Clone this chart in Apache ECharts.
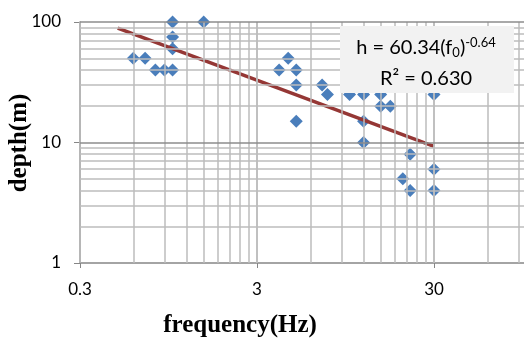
<!DOCTYPE html>
<html><head><meta charset="utf-8">
<script src="https://cdn.jsdelivr.net/npm/echarts@6/dist/echarts.min.js"></script>
<style>html,body{margin:0;padding:0;background:#fff}#c{width:524px;height:343px}</style>
</head><body><div id="c"></div>
<script>
// data
const freq  = [0.6, 0.7, 0.8, 0.9, 1, 1, 1, 1, 1.5, 4, 4.5, 5, 5, 5, 7, 7.5, 10, 12, 12, 12, 15, 15, 17, 20, 22, 22, 30, 30, 30];
const depth = [50, 50, 40, 40, 40, 100, 75, 60, 100, 40, 50, 40, 30, 15, 30, 25, 25, 25, 15, 10, 25, 20, 20, 5, 8, 4, 25, 6, 4];
const trendX = [0.49, 30];
const trendY = [89, 9.3];
const xTicks = [0.3, 3, 30, 300];
const yTicks = [1, 10, 100];
const eqText = ['h = 60.34(f', '0', ')', '-0.64', 'R² = 0.630'];

const FONT = 'Lato, "Open Sans", sans-serif';
const SERIF = 'bold 25px "Liberation Serif", "Times New Roman", serif';
const gridX = [];
[0.3, 3, 30].forEach(d => { for (let k = 1; k <= 10; k++) gridX.push(+(d * k).toPrecision(6)); });
const gridY = [];
[1, 10].forEach(d => { for (let k = 2; k <= 10; k++) gridY.push(d * k); });

const lines = [];
gridX.forEach(v => lines.push({ xAxis: v, lineStyle: { color: '#bcbcbc', width: 1.5, type: 'solid' } }));
gridY.forEach(v => lines.push({ yAxis: v, lineStyle: { color: (v === 10 || v === 100) ? '#8c8c8c' : '#bcbcbc', width: (v === 10 || v === 100) ? 1.7 : 1.5, type: 'solid' } }));

const chart = echarts.init(document.getElementById('c'), null, { renderer: 'canvas' });
chart.setOption({
  animation: false,
  grid: { left: 80, top: 22, height: 241, width: 531, containLabel: false, outerBoundsMode: 'none' },
  xAxis: {
    type: 'log', logBase: 10, min: 0.3, max: 300,
    axisLine: { show: true, lineStyle: { color: '#868686', width: 1.5 } },
    axisTick: { show: true, customValues: xTicks, length: 5, lineStyle: { color: '#868686' } },
    axisLabel: { customValues: xTicks, formatter: v => String(+v.toPrecision(6)), fontSize: 17, color: '#000', margin: 18, fontFamily: FONT },
    splitLine: { show: false }, minorTick: { show: false }
  },
  yAxis: {
    type: 'log', logBase: 10, min: 1, max: 100,
    axisLine: { show: true, lineStyle: { color: '#868686', width: 1.5 } },
    axisTick: { show: true, customValues: yTicks, length: 6, lineStyle: { color: '#868686' } },
    axisLabel: { customValues: yTicks, formatter: v => String(v), fontSize: 17, color: '#000', margin: 19, fontFamily: FONT },
    splitLine: { show: false }
  },
  series: [
    {
      type: 'line', data: [], z: 1, silent: true,
      markLine: { silent: true, symbol: ['none', 'none'], label: { show: false }, animation: false, data: lines }
    },
    {
      type: 'scatter', z: 3, symbol: 'diamond', symbolSize: 13,
      itemStyle: { color: '#4a7ebb', opacity: 1 },
      data: freq.map((f, i) => [f, depth[i]])
    },
    {
      type: 'line', z: 4, symbol: 'none',
      lineStyle: { color: '#953735', width: 3.5 },
      data: trendX.map((f, i) => [f, trendY[i]])
    }
  ],
  graphic: [
    { type: 'rect', x: 340, y: 26, shape: { width: 174, height: 67 }, style: { fill: '#f2f2f2' }, z: 10 },
    {
      type: 'text', x: 426, y: 48, z: 11,
      style: {
        text: '{a|' + eqText[0] + '}{s|' + eqText[1] + '}{a|' + eqText[2] + '}{p|' + eqText[3] + '}',
        align: 'center', verticalAlign: 'middle',
        rich: {
          a: { fontSize: 20, fontFamily: FONT, fill: '#000', lineHeight: 28 },
          s: { fontSize: 13, fontFamily: FONT, fill: '#000', lineHeight: 28, padding: [10, 0, 0, 0] },
          p: { fontSize: 13, fontFamily: FONT, fill: '#000', lineHeight: 28, padding: [0, 0, 10, 0] }
        }
      }
    },
    {
      type: 'text', x: 426, y: 79, z: 11,
      style: { text: eqText[4], align: 'center', verticalAlign: 'middle', fontSize: 20, fontFamily: FONT, fill: '#000' }
    },
    {
      type: 'text', x: 240, y: 326, z: 11,
      style: { text: 'frequency(Hz)', font: SERIF, fill: '#000', align: 'center', verticalAlign: 'middle' }
    },
    {
      type: 'text', z: 11, x: 20, y: 143, rotation: Math.PI / 2,
      style: { text: 'depth(m)', font: SERIF, fill: '#000', align: 'center', verticalAlign: 'middle' }
    }
  ]
});
</script></body></html>
